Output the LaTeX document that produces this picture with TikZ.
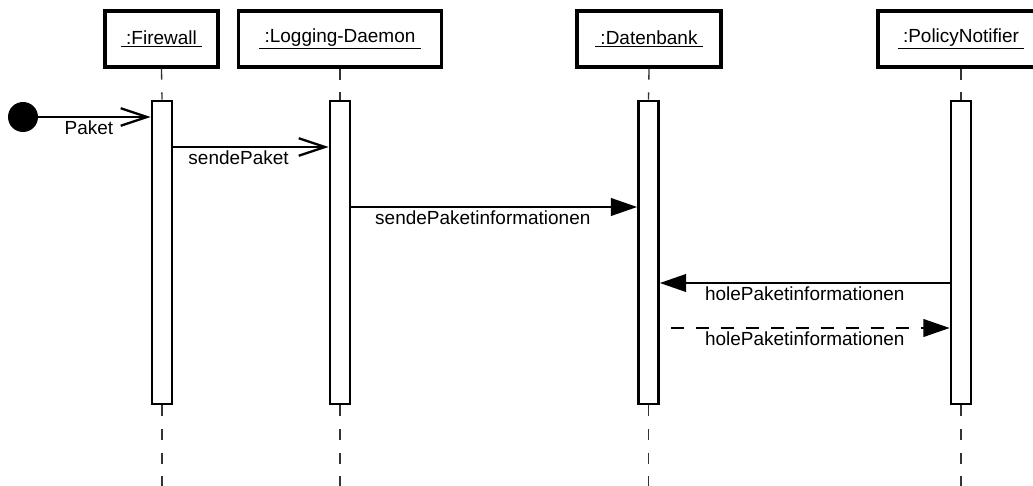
\documentclass[tikz,border=0pt]{standalone}
\usepackage{fontspec}
\setmainfont{Liberation Sans}
\usetikzlibrary{arrows.meta}

\tikzset{
  object/.style={draw, line width=1.8pt, minimum height=1.12cm, inner xsep=0pt,
    font=\fontsize{10.8}{13}\selectfont},
  activation/.style={draw, fill=white, line width=1.5pt, minimum width=0.4cm,
    minimum height=6.06cm, inner sep=0pt},
  lifeline/.style={line width=0.75pt, black!80, dash pattern=on 6.3pt off 7.2pt},
  call/.style={line width=1.3pt, -{Straight Barb[length=15pt,width=10pt]}},
  sync/.style={line width=1.3pt, -{Triangle[length=15pt,width=10pt]}},
  reply/.style={sync, dash pattern=on 7.4pt off 6.8pt},
  msg/.style={below, inner sep=1.5pt, font=\fontsize{10.8}{13}\selectfont}
}
\newcommand{\objname}[1]{\underline{\hspace{3pt}#1\hspace{3pt}}}

\begin{document}
\begin{tikzpicture}[x=0.02cm,y=-0.02cm]
\useasboundingbox (0,0) rectangle (1033,486);
\clip (0,0) rectangle (1033,486);

% Objects
\node[object, minimum width=2.26cm] (fw) at (161.5,39) {\objname{:Firewall}};
\node[object, minimum width=4.06cm] (ld) at (340,39) {\objname{:Logging-Daemon}};
\node[object, minimum width=2.88cm] (db) at (649,39) {\objname{:Datenbank}};
\node[object, minimum width=3.32cm] (pn) at (961,39) {\objname{:PolicyNotifier}};

% Activation bars
\node[activation] (fw-bar) at (162,252.5) {};
\node[activation] (ld-bar) at (340,252.5) {};
\node[activation] (db-bar) at (648.5,252.5) {};
\node[activation] (pn-bar) at (961,252.5) {};

% Lifelines
\coordinate (bottom) at (0,490);
\foreach \n in {fw,ld,db,pn} {
  \draw[lifeline] (\n.south) -- (\n-bar.north);
  \draw[lifeline] (\n-bar.south) -- (\n-bar.south |- bottom);
}

% Message heights
\coordinate (m2) at (0,147);
\coordinate (m3) at (0,207);
\coordinate (m4) at (0,283);
\coordinate (r5) at (671,328);

% Messages
\node[circle, fill, minimum size=0.6cm, inner sep=0pt] (start) at (23,117) {};
\draw[call] (start) -- node[msg, pos=0.45] {Paket} (start -| fw-bar.west);
\draw[call] (fw-bar.east |- m2) -- node[msg, pos=0.42] {sendePaket} (ld-bar.west |- m2);
\draw[sync] (ld-bar.east |- m3) -- node[msg, pos=0.46] {sendePaketinformationen} (db-bar.west |- m3);
\draw[sync] (pn-bar.west |- m4) -- node[msg, pos=0.5] {holePaketinformationen} (db-bar.east |- m4);
\draw[reply] (r5) -- node[msg, pos=0.48] {holePaketinformationen} (pn-bar.west |- r5);
\end{tikzpicture}
\end{document}
